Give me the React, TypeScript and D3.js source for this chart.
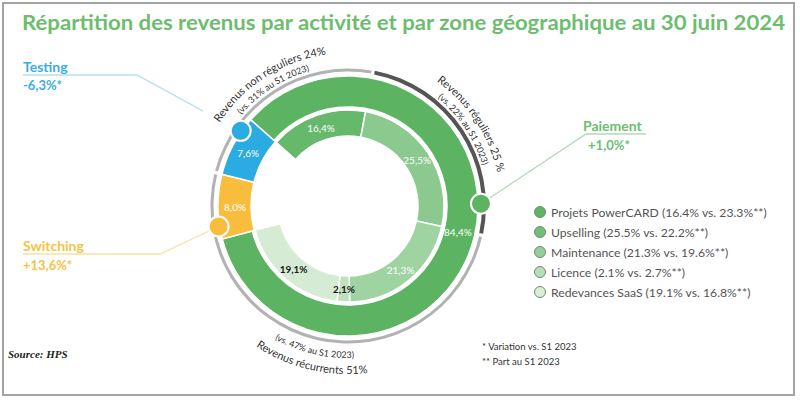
import React from "react";
import * as d3 from "d3";

const W = 800;
const H = 400;

const title = "Répartition des revenus par activité et par zone géographique au 30 juin 2024";

const zones = ["Paiement", "Switching", "Testing"];
const zoneShares = [84.4, 8.0, 7.6];
const zoneLabels = ["84,4%", "8,0%", "7,6%"];
const zoneVariations = ["+1,0%*", "+13,6%*", "-6,3%*"];
const zoneColors = ["#5cb462", "#f8bd3d", "#2aabe2"];

const activities = ["Projets PowerCARD", "Upselling", "Maintenance", "Licence", "Redevances SaaS"];
const activityShares = [16.4, 25.5, 21.3, 2.1, 19.1];
const activitySharesPrev = [23.3, 22.2, 19.6, 2.7, 16.8];
const activityLabels = ["16,4%", "25,5%", "21,3%", "2,1%", "19,1%"];
const activityColors = ["#66b96b", "#8cc98f", "#a0d3a2", "#bfe1be", "#d5ebd3"];
const legendColors = ["#5db563", "#72be76", "#97cd99", "#b9ddb9", "#d9eed8"];
const activityLabelColors = ["#ffffff", "#ffffff", "#ffffff", "#1a1a1a", "#1a1a1a"];

const groups = ["Revenus non réguliers 24%", "Revenus réguliers 25 %", "Revenus récurrents 51%"];
const groupPrev = ["(vs. 31% au S1 2023)", "(vs. 22% au S1 2023)", "(vs. 47% au S1 2023)"];
const groupMembers = [
  ["Testing", "Projets PowerCARD"],
  ["Upselling"],
  ["Maintenance", "Licence", "Redevances SaaS", "Switching"],
];
const groupColors = ["#b2b2b2", "#555555", "#b2b2b2"];

const footnotes = ["* Variation vs. S1 2023", "** Part au S1 2023"];
const source = "Source: HPS";

const FONT = "Lato, 'Open Sans', sans-serif";
const deg = Math.PI / 180;

export default function App() {
  const cx = 348;
  const cy = 206;
  const start = -48.5 * deg;
  const rOuter = 130;
  const rMidOut = 99;
  const rMidIn = 97;
  const rInner = 70;

  const zonePie = d3.pie<number>().sort(null).startAngle(start).endAngle(start + 2 * Math.PI)(zoneShares);
  const paiement = zonePie[0];
  const actPie = d3.pie<number>().sort(null).startAngle(paiement.startAngle).endAngle(paiement.endAngle)(activityShares);

  const outerArc = (i: number) =>
    d3.arc<any>().innerRadius(i === 0 ? rMidOut : rMidIn).outerRadius(rOuter);
  const innerArc = d3.arc<any>().innerRadius(rInner).outerRadius(rMidIn - 1);

  const seq: { name: string; a0: number; a1: number }[] = [
    ...actPie.map((p, i) => ({ name: activities[i], a0: p.startAngle, a1: p.endAngle })),
    ...zonePie.slice(1).map((p, i) => ({ name: zones[i + 1], a0: p.startAngle, a1: p.endAngle })),
  ];
  const groupArcs = groupMembers.map((mem) => {
    const n = seq.length;
    let first = 0;
    let last = 0;
    seq.forEach((s, i) => {
      const prev = seq[(i - 1 + n) % n];
      const next = seq[(i + 1) % n];
      if (mem.includes(s.name) && !mem.includes(prev.name)) first = i;
      if (mem.includes(s.name) && !mem.includes(next.name)) last = i;
    });
    let a0 = seq[first].a0;
    let a1 = seq[last].a1;
    if (a1 < a0) a1 += 2 * Math.PI;
    return { a0, a1 };
  });

  const pt = (r: number, a: number): [number, number] => [cx + r * Math.sin(a), cy - r * Math.cos(a)];

  const textArcPath = (r: number, mid: number, half: number, cw: boolean) => {
    const a0 = cw ? mid - half : mid + half;
    const a1 = cw ? mid + half : mid - half;
    const p0 = pt(r, a0);
    const p1 = pt(r, a1);
    return `M${p0[0]},${p0[1]} A${r},${r} 0 0 ${cw ? 1 : 0} ${p1[0]},${p1[1]}`;
  };

  const markerAngles = [89 * deg, 261 * deg, 305 * deg];
  const markers = markerAngles.map((a, i) => pt(i === 0 ? 133 : 131, a));

  const calloutLines: [number, number][][] = [
    [markers[0], [586, 134], [646, 134]],
    [markers[1], [160, 254], [23, 254]],
    [[203, 111], [137, 75], [23, 75]],
  ];
  const lineColors = ["#b3dbb3", "#f4e3a8", "#b2dff1"];
  const textColors = ["#6abf70", "#f6c444", "#3aaee0"];

  return (
    <svg
      width={W}
      height={H}
      style={{ position: "absolute", left: 0, top: 0, background: "#fff" }}
      fontFamily={FONT}
    >
      <rect x={3} y={3} width={791} height={392} fill="#fff" stroke="#a3a3a3" strokeWidth={2} />
      <text x={22} y={30} fontSize={21} fontWeight={700} fill="#6dbd6f" textLength={763} lengthAdjust="spacingAndGlyphs">
        {title}
      </text>

      <g transform={`translate(${cx},${cy})`}>
        {zonePie.map((p, i) => (
          <path key={"z" + i} d={outerArc(i)(p) as string} fill={zoneColors[i]} stroke="#fff" strokeWidth={1.5} />
        ))}
        {actPie.map((p, i) => (
          <path key={"a" + i} d={innerArc(p) as string} fill={activityColors[i]} stroke="#fff" strokeWidth={1.5} />
        ))}
        {groupArcs.map((g, i) => (
          <path
            key={"g" + i}
            d={
              d3
                .arc<any>()
                .innerRadius(i === 1 ? 134 : 134.5)
                .outerRadius(i === 1 ? 138 : 137.5)({ startAngle: g.a0 + 0.012, endAngle: g.a1 - 0.012 }) as string
            }
            fill={groupColors[i]}
          />
        ))}
        {zonePie.map((p, i) => {
          const a = (p.startAngle + p.endAngle) / 2;
          const r = 113;
          return (
            <text
              key={"zl" + i}
              x={r * Math.sin(a)}
              y={-r * Math.cos(a)}
              fontSize={10}
              fill="#fff"
              textAnchor="middle"
              dominantBaseline="central"
            >
              {zoneLabels[i]}
            </text>
          );
        })}
        {actPie.map((p, i) => {
          const a = (p.startAngle + p.endAngle) / 2;
          const r = 83;
          return (
            <text
              key={"al" + i}
              x={r * Math.sin(a)}
              y={-r * Math.cos(a)}
              fontSize={10}
              fontWeight={i >= 3 ? 700 : 400}
              fill={activityLabelColors[i]}
              textAnchor="middle"
              dominantBaseline="central"
            >
              {activityLabels[i]}
            </text>
          );
        })}
      </g>

      <defs>
        {groupArcs.map((g, i) => {
          const mid = (g.a0 + g.a1) / 2;
          const m = ((mid % (2 * Math.PI)) + 2 * Math.PI) % (2 * Math.PI);
          const bottom = m > Math.PI / 2 && m < (3 * Math.PI) / 2;
          return (
            <React.Fragment key={"def" + i}>
              <path id={`gmain${i}`} d={textArcPath(bottom ? 168 : 153, mid, 80 * deg, !bottom)} />
              <path id={`gprev${i}`} d={textArcPath(bottom ? 152 : 140.5, mid, 80 * deg, !bottom)} />
            </React.Fragment>
          );
        })}
      </defs>
      {groups.map((g, i) => (
        <g key={"gt" + i} fill="#333">
          <text fontSize={11}>
            <textPath href={`#gmain${i}`} startOffset="50%" textAnchor="middle">
              {g}
            </textPath>
          </text>
          <text fontSize={9}>
            <textPath href={`#gprev${i}`} startOffset="50%" textAnchor="middle">
              {groupPrev[i]}
            </textPath>
          </text>
        </g>
      ))}

      {calloutLines.map((pts, i) => (
        <polyline key={"cl" + i} points={pts.map((p) => p.join(",")).join(" ")} fill="none" stroke={lineColors[i]} strokeWidth={1.3} />
      ))}
      {markers.map((m, i) => (
        <circle key={"mk" + i} cx={m[0]} cy={m[1]} r={10} fill={zoneColors[i]} stroke="#fff" strokeWidth={2} />
      ))}
      <text x={583} y={131} fontSize={14} fontWeight={700} fill={textColors[0]}>{zones[0]}</text>
      <text x={609} y={150} fontSize={13} fontWeight={700} fill={textColors[0]} textAnchor="middle">{zoneVariations[0]}</text>
      <text x={23} y={251} fontSize={14} fontWeight={700} fill={textColors[1]}>{zones[1]}</text>
      <text x={23} y={270} fontSize={13} fontWeight={700} fill={textColors[1]}>{zoneVariations[1]}</text>
      <text x={23} y={72} fontSize={14} fontWeight={700} fill={textColors[2]}>{zones[2]}</text>
      <text x={23} y={90} fontSize={13} fontWeight={700} fill={textColors[2]}>{zoneVariations[2]}</text>

      {activities.map((a, i) => (
        <g key={"lg" + i} transform={`translate(540,${212 + i * 20})`}>
          <circle r={5.5} fill={legendColors[i]} stroke="#6f8f6f" strokeWidth={1} />
          <text x={11} y={0} fontSize={12.2} fill="#555" dominantBaseline="central">
            {`${a} (${activityShares[i].toFixed(1)}% vs. ${activitySharesPrev[i].toFixed(1)}%**)`}
          </text>
        </g>
      ))}

      {footnotes.map((f, i) => (
        <text key={"fn" + i} x={482} y={350 + i * 15} fontSize={9.5} fill="#333">
          {f}
        </text>
      ))}
      <text x={8} y={358} fontSize={11} fontWeight={700} fontStyle="italic" fontFamily="'Liberation Serif', serif" fill="#222">
        {source}
      </text>
    </svg>
  );
}
